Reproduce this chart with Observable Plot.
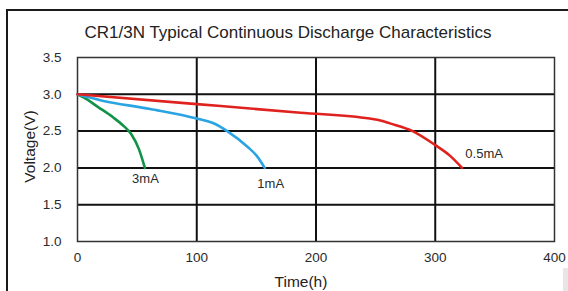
<!DOCTYPE html>
<html>
<head>
<meta charset="utf-8">
<script src="https://cdn.jsdelivr.net/npm/d3@7"></script>
<script src="https://cdn.jsdelivr.net/npm/@observablehq/plot@0.6"></script>
<style>
  html, body { margin: 0; padding: 0; background: #fff; overflow: hidden; }
  #wrap { position: relative; width: 568px; height: 291px; }
  #border { position: absolute; left: 6px; top: 9px; width: 600px; height: 300px;
            border-left: 2px solid #1a1a1a; border-top: 2px solid #1a1a1a; }
  #corner { position: absolute; left: 563px; top: 268px; width: 5px; height: 23px; background: #e6e6e6; }
  #chart { position: absolute; left: 0; top: 0; }
</style>
</head>
<body>
<div id="wrap"><div id="border"></div><div id="corner"></div><div id="chart"></div></div>
<script>
const title = "CR1/3N Typical Continuous Discharge Characteristics";
const xLabel = "Time(h)";
const yLabel = "Voltage(V)";
const xTicks = [0, 100, 200, 300, 400];
const yTicks = [1.0, 1.5, 2.0, 2.5, 3.0, 3.5];

const seriesNames = ["3mA", "1mA", "0.5mA"];
const seriesColors = ["#109346", "#2ba4e3", "#e0221e"];

const t3 = [0, 8, 17, 30, 38, 45, 51.5, 56.5];
const v3 = [3.0, 2.93, 2.83, 2.685, 2.58, 2.46, 2.255, 2.0];

const t1 = [0, 19, 61, 100, 115, 125.5, 143, 150, 157];
const v1 = [3.0, 2.92, 2.80, 2.67, 2.60, 2.50, 2.28, 2.17, 2.0];

const t05 = [0, 100, 187, 245, 254, 262, 281, 300, 312, 322.5];
const v05 = [3.0, 2.867, 2.75, 2.67, 2.645, 2.605, 2.50, 2.31, 2.17, 2.0];

const labelT = [57, 162, 341];
const labelV = [1.85, 1.79, 2.19];

const rows = [];
[[t3, v3], [t1, v1], [t05, v05]].forEach(([ts, vs], i) => {
  ts.forEach((t, j) => rows.push({series: seriesNames[i], t, v: vs[j]}));
});
const labels = seriesNames.map((s, i) => ({series: s, t: labelT[i], v: labelV[i]}));

const font = "'Liberation Sans', Arial, sans-serif";

const chart = Plot.plot({
  width: 568,
  height: 291,
  marginLeft: 77,
  marginRight: 14,
  marginTop: 57,
  marginBottom: 50,
  style: {fontFamily: font, fontSize: "13.5px", color: "#2a2a2a", background: "transparent"},
  x: {domain: [0, 400], ticks: xTicks, tickSize: 0, tickPadding: 11, label: null},
  y: {domain: [1.0, 3.5], ticks: yTicks, tickSize: 0, tickPadding: 16, label: null, tickFormat: d3.format(".1f")},
  color: {domain: seriesNames, range: seriesColors},
  marks: [
    Plot.ruleY(yTicks.slice(1, -1), {stroke: "#111", strokeWidth: 2}),
    Plot.ruleX(xTicks.slice(1, -1), {stroke: "#111", strokeWidth: 2}),
    Plot.frame({stroke: "#333", strokeWidth: 1.5}),
    Plot.line(rows, {x: "t", y: "v", z: "series", stroke: "series", strokeWidth: 2.6, curve: "monotone-x"}),
    Plot.text(labels, {x: "t", y: "v", text: "series", fill: "#2a2a2a", fontSize: 13}),
    Plot.text([title], {frameAnchor: "top", dy: -32, dx: -28, fontSize: 17, fill: "#222", text: d => d}),
    Plot.text([xLabel], {frameAnchor: "bottom", dy: 45, dx: -15, fontSize: 15.5, fill: "#222", text: d => d}),
    Plot.text([yLabel], {frameAnchor: "left", textAnchor: "middle", dx: -47, dy: -3, rotate: -90, fontSize: 15.5, fill: "#222", text: d => d})
  ]
});
document.getElementById("chart").appendChild(chart);
</script>
</body>
</html>
